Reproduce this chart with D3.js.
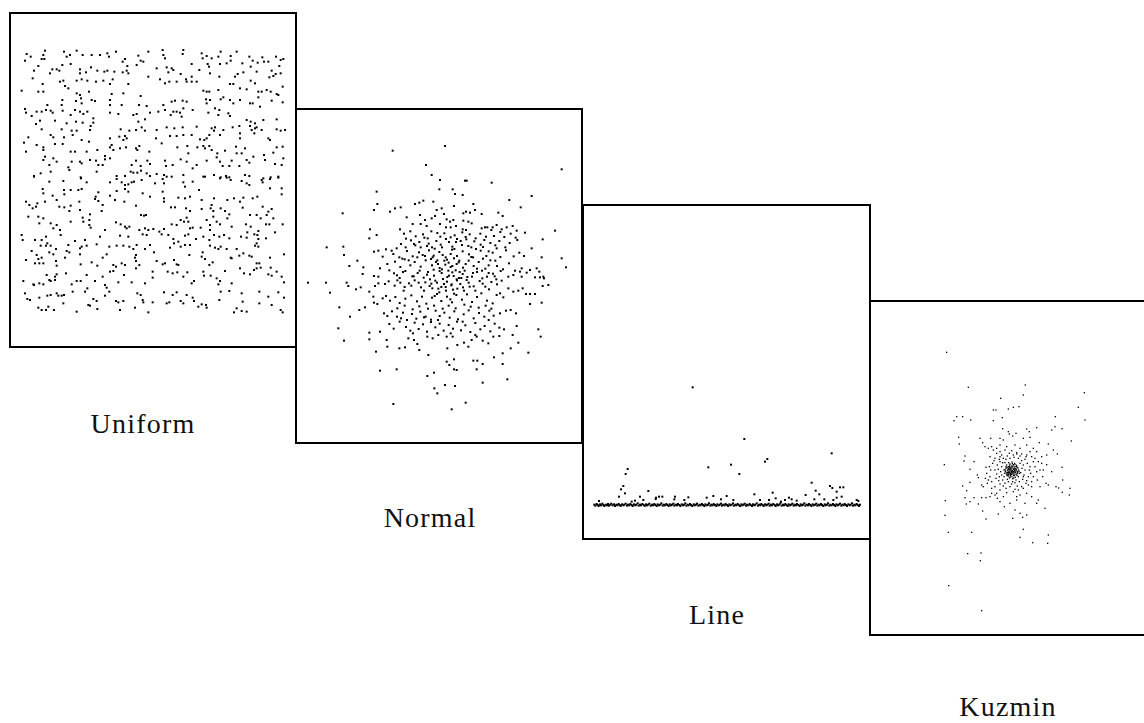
<!DOCTYPE html>
<html lang="en">
<head>
<meta charset="utf-8">
<title>Point distributions</title>
<script src="https://d3js.org/d3.v7.min.js"></script>
<style>
  body { margin: 0; background: white; }
  .box { fill: none; stroke: black; stroke-width: 2; }
  .label {
    font-family: "Liberation Serif", "DejaVu Serif", serif;
    font-size: 28px;
    letter-spacing: 1.2px;
    fill: #111;
  }
</style>
</head>
<body>
<script>
// point positions, in panel units
var uniformPts = [
  [50,42],[45,62],[62,50],[105,32],[100,45],[95,57],[103,57],[162,35],[170,50],[180,45],[200,32],[218,45],[245,45],[270,45],[292,40],[297,50],[318,35],[345,57],[338,65],[385,47],[392,62],[400,65],[415,35],[458,30],[460,45],[465,55],[520,30],[518,42],[575,40],[578,55],[590,48],[605,55],[632,35],[625,50],[662,48],[662,62],[680,35],[718,50],[728,62],[757,52],[762,65],[798,50],[812,60],[820,57],[775,65],
  [72,92],[85,78],[120,100],[127,88],[140,88],[148,92],[157,75],[182,72],[210,88],[210,100],[228,97],[243,82],[262,92],[283,95],[292,92],[313,95],[338,97],[352,78],[350,92],[355,100],[380,75],[440,85],[470,82],[475,97],[485,85],[490,90],[512,102],[545,72],[545,110],[568,90],[593,72],[597,80],[600,100],[630,72],[650,70],[683,102],[697,70],[700,97],[722,80],[740,95],[743,68],[785,92],[797,102],[808,78],[812,100],[790,108],[778,112],
  [68,115],[98,132],[150,125],[160,122],[165,138],[175,145],[200,122],[215,118],[232,122],[258,125],[280,122],[300,132],[308,118],[355,132],[415,110],[450,118],[465,130],[478,125],[500,125],[528,118],[530,125],[545,125],[560,125],[628,110],[625,150],[660,132],[670,132],[675,110],[690,145],[710,148],[722,122],[735,130],[745,155],[755,155],[770,150],[782,155],[800,162],[818,140],[35,152],[85,155],[100,155],[580,152],[590,155],[598,155],
  [200,160],[210,165],[213,175],[237,155],[157,180],[155,195],[198,183],[215,190],[245,180],[255,183],[305,162],[300,180],[340,160],[392,168],[300,195],[335,195],[387,195],[410,198],[485,185],[495,182],[518,182],[530,185],[460,195],[588,178],[600,180],[590,190],[632,178],[640,172],[660,180],[670,190],[690,180],[720,190],[728,190],[745,172],[750,200],[785,182],[818,187],[805,165],[112,195],[108,210],[45,207],[48,218],
  [80,215],[95,215],[122,212],[128,218],[158,212],[182,225],[195,210],[210,215],[220,222],[232,215],[250,235],[250,248],[300,218],[325,222],[370,225],[380,222],[385,245],[405,238],[420,218],[445,215],[465,210],[482,225],[490,215],[500,215],[510,218],[520,205],[515,230],[548,210],[595,218],[615,205],[628,210],[625,225],[655,220],[660,228],[710,240],[722,245],[735,250],[760,240],[800,238],[65,228],[90,242],[135,242],[78,252],[170,250],[198,245],[218,248],[242,258],
  [95,268],[155,268],[185,272],[200,272],[240,270],[332,268],[358,272],[378,270],[395,262],[405,272],[440,270],[470,262],[493,265],[518,262],[560,260],[605,265],[615,262],[640,270],[668,262],[688,258],[720,258],[725,270],[735,265],[740,262],[755,270],[800,268],[825,270],[812,272],[55,292],[42,308],[122,285],[130,292],[162,292],[188,285],[215,300],[237,305],[300,295],[328,290],[345,288],[340,300],[350,295],[438,295],[480,288],[500,288],[520,285],[545,285],[570,298],[583,300],[590,295],[598,285],[612,272],[630,285],[690,280],[690,295],[733,280],[775,295],[780,300],
  [80,315],[100,322],[100,330],[135,312],[158,312],[48,335],[105,350],[182,335],[195,335],[230,335],[262,330],[300,322],[305,315],[310,330],[330,325],[348,322],[378,325],[388,318],[382,330],[418,335],[455,310],[502,322],[532,318],[535,340],[562,322],[580,318],[585,325],[598,318],[605,330],[622,340],[645,332],[678,320],[680,340],[695,340],[705,325],[730,350],[762,345],[800,322],[818,320],[790,338],[100,360],[130,355],[185,365],[210,365],[240,360],[258,362],[265,375],[278,375],[285,358],[300,355],
  [118,375],[140,365],[175,382],[215,370],[285,348],[365,375],[378,362],[392,378],[412,362],[420,372],[465,362],[468,378],[488,375],[512,358],[530,365],[560,375],[548,385],[590,362],[620,352],[630,365],[638,378],[658,378],[665,362],[688,378],[710,360],[718,368],[765,360],[795,372],[820,355],[815,375],[72,408],[92,400],[122,395],[178,390],[212,412],[260,395],[320,408],[345,408],[362,395],[370,398],[382,398],[393,392],[410,400],[420,408],[440,402],[462,405],[470,410],[520,405],[580,410],[612,405],[632,412],[648,408],[658,412],[705,405],[718,408],[760,415],[782,412],[805,410],
  [72,410],[118,425],[160,423],[213,415],[230,427],[300,427],[320,417],[335,427],[345,435],[355,433],[365,427],[372,425],[395,420],[435,430],[458,417],[462,430],[485,410],[520,427],[525,440],[548,425],[585,410],[630,415],[650,413],[662,420],[695,423],[710,430],[718,435],[755,420],[758,427],[780,417],[805,413],[98,447],[100,460],[128,467],[162,450],[163,463],[182,450],[205,450],[215,447],[265,457],[257,470],[300,467],[320,453],[345,447],[355,455],[398,460],[420,470],[458,455],[462,475],[505,473],[525,475],[540,470],[567,450],[575,480],[612,475],[652,480],[672,475],[700,473],[728,475],[742,470],[780,445],[815,445],[815,463],
  [48,485],[58,495],[68,505],[78,500],[82,490],[105,485],[140,480],[148,500],[163,502],[178,513],[182,497],[208,485],[210,510],[240,523],[255,477],[265,483],[275,513],[278,495],[315,480],[343,485],[378,497],[393,525],[402,527],[408,525],[462,485],[483,502],[495,502],[528,505],[540,513],[575,507],[605,495],[602,505],[610,513],[632,505],[645,513],[658,523],[690,485],[698,503],[720,525],[740,525],[758,500],[775,515],[770,525],[785,507],[790,535],[55,530],[85,530],[100,535],[88,550],[122,550],[140,555],[130,565],[150,570],[182,545],[218,533],[220,545],[238,540],[238,555],[242,563],
  [318,547],[332,553],[345,560],[350,565],[358,560],[388,570],[405,565],[415,570],[430,567],[462,567],[485,553],[500,555],[512,540],[522,545],[535,545],[540,565],[548,563],[530,533],[572,563],[590,540],[600,555],[620,545],[610,530],[630,553],[600,570],[652,535],[665,560],[708,553],[712,577],[722,560],[745,573],[752,535],[768,553],[778,553],[795,577],[818,553],[35,585],[38,600],[75,600],[95,600],[108,590],[112,610],[152,585],[195,603],[225,600],[270,590],[285,570],[330,587],[355,590],[398,583],[410,585],[448,575],[455,583],[475,585],[490,597],[525,587],[535,583],[558,597],[580,590],[598,600],[612,585],[628,590],[642,585],[658,595],[693,590],[710,593],[733,583],[742,585],[745,597],[768,595],
  [92,617],[108,617],[122,617],[138,627],[175,615],[210,625],[215,620],[230,617],[260,613],[298,620],[320,617],[340,617],[358,620],[380,615],[370,627],[378,645],[405,627],[420,615],[432,637],[480,623],[492,610],[505,605],[512,620],[525,615],[540,615],[600,617],[615,623],[625,627],[632,620],[650,627],[680,627],[700,640],[735,617],[740,610],[745,620],[65,633],[80,645],[85,657],[95,653],[118,637],[130,643],[170,633],[178,637],[210,643],[48,660],[75,670],[88,670],[100,670],[138,663],[140,677],[165,653],[212,673],[245,667],[262,677],[278,653],[290,643],[310,675],[318,680],[335,670],[345,675],[375,653],[378,663],[388,675],[440,663],[458,673],[465,670],[492,660],[500,673],[505,675],[538,645],[578,637],[575,650],[585,657],[598,675],[608,667],[662,653],[665,655],[688,647],[718,647],[725,650],[740,670],[752,683],[780,653],[822,643],
  [40,723],[70,733],[72,735],[88,730],[100,733],[110,705],[118,720],[122,723],[135,710],[140,703],[135,720],[168,700],[185,733],[200,723],[212,723],[230,705],[255,723],[278,710],[285,735],[290,743],[300,695],[310,693],[325,727],[342,705],[365,727],[378,685],[405,730],[428,695],[428,713],[473,695],[488,700],[502,697],[520,710],[532,697],[545,730],[552,723],[580,695],[582,707],[602,707],[620,715],[625,733],[630,723],[645,693],[665,730],[690,685],[702,700],[720,703],[732,690],[748,670],[775,703],[785,707],[800,695],[815,710],[822,727],[782,683],[740,685],
  [45,760],[52,777],[60,780],[88,773],[112,767],[122,765],[140,760],[145,767],[155,767],[162,765],[188,755],[225,755],[232,745],[250,777],[260,783],[285,767],[298,755],[318,783],[325,787],[340,783],[382,760],[392,765],[398,780],[400,787],[428,787],[462,757],[488,765],[500,757],[512,783],[530,765],[548,773],[552,783],[575,793],[590,803],[628,780],[632,755],[658,753],[695,760],[698,785],[748,755],[748,790],[775,770],[785,795],[805,757],[822,773],[85,803],[95,810],[108,810],[115,800],[132,810],[160,790],[200,815],[235,795],[240,797],[262,807],[330,810],[375,803],[415,817],[470,790],[478,787],[520,790],[565,800],[588,795],[672,817],[680,805],[695,813],[710,815],[812,810],[818,817]
];

var normalPts = [
  [278,32],[435,18],[378,75],[395,105],[420,120],[495,122],[500,122],[575,128],[785,88],[418,148],[458,148],[465,162],[488,165],[230,155],[232,192],[222,210],[128,220],[270,215],[285,205],[302,202],[345,192],[358,188],[370,182],[400,185],[410,210],[425,205],[462,198],[520,192],[525,210],[498,215],[490,220],[510,218],[545,222],[595,218],[608,228],[628,180],[662,202],[695,168],
  [320,232],[360,225],[375,240],[395,235],[405,228],[432,222],[440,238],[450,245],[460,240],[490,242],[505,245],[515,250],[338,252],[362,252],[380,258],[420,252],[438,262],[452,262],[468,258],[488,268],[498,270],[545,265],[555,262],[562,262],[578,262],[590,255],[605,268],[620,262],[638,258],[650,272],[210,268],[208,295],[230,285],
  [300,268],[312,281],[331,274],[347,289],[369,283],[383,295],[394,274],[412,279],[421,290],[433,280],[452,292],[464,286],[471,297],[487,277],[497,291],[509,283],[527,295],[541,281],[558,290],[574,270],[582,288],[601,276],[613,291],[632,281],[647,293],[675,278],[765,272],[728,298],[80,322],[130,320],[132,345],[172,362],[148,378],[190,382],
  [222,335],[235,332],[248,350],[258,328],[275,332],[290,325],[303,312],[317,322],[333,301],[346,316],[358,306],[373,293],[386,311],[396,322],[409,303],[422,314],[438,297],[457,320],[468,306],[486,315],[499,298],[514,322],[523,304],[542,314],[553,300],[571,309],[586,316],[598,303],[616,322],[629,309],[652,300],[695,325],[725,352],
  [280,342],[298,352],[321,333],[338,349],[357,337],[368,345],[387,331],[401,347],[418,336],[437,352],[456,329],[471,348],[488,334],[507,343],[519,352],[542,332],[559,348],[578,338],[601,351],[618,331],[641,349],[658,338],[672,348],
  [240,385],[262,372],[285,365],[301,381],[314,358],[331,376],[344,366],[362,380],[377,361],[396,376],[408,366],[426,388],[441,359],[457,378],[476,367],[489,383],[506,362],[521,378],[536,366],[556,386],[571,361],[591,378],[609,388],[627,370],[645,392],[665,385],[690,390],[710,385],[785,355],[798,382],
  [222,408],[235,410],[282,400],[299,414],[316,393],[337,409],[353,399],[371,413],[384,396],[402,407],[419,393],[442,411],[457,397],[477,414],[494,392],[516,410],[531,396],[547,415],[566,399],[584,409],[625,410],[665,410],[705,412],[730,410],
  [188,402],[268,391],[291,406],[309,396],[341,409],[359,392],[381,404],[401,389],[461,408],[479,396],[502,411],[519,399],[546,392],[561,410],[579,401],[602,393],[640,405],[660,395],[680,398],[718,395],[720,412],[732,415],
  [24,428],[78,428],[140,428],[145,438],[90,458],[168,448],[182,442],[208,455],[225,438],[235,430],[255,432],[266,424],[284,437],[301,428],[314,441],[327,430],[344,421],[363,442],[376,427],[389,438],[406,422],[424,441],[441,425],[454,436],[471,421],[489,442],[506,428],[521,439],[539,423],[556,440],[574,426],[591,433],[605,422],[625,445],[640,455],[655,452],[668,445],[678,462],[690,462],[705,462],[728,438],[745,435],
  [220,470],[222,488],[232,492],[248,475],[258,468],[270,482],[286,471],[299,489],[316,476],[334,466],[351,484],[366,470],[379,491],[396,473],[411,462],[424,483],[441,470],[456,487],[469,465],[486,479],[501,463],[516,486],[531,471],[544,460],[561,482],[578,490],[590,465],[600,460],[610,472],[690,492],[725,488],
  [118,502],[178,510],[195,502],[252,520],[262,528],[276,514],[291,530],[309,518],[321,540],[336,522],[349,536],[361,515],[377,530],[393,539],[407,512],[419,528],[433,518],[449,533],[463,514],[474,538],[491,523],[506,511],[521,535],[537,519],[553,530],[568,512],[581,527],[600,520],[618,512],[632,510],[648,520],
  [150,530],[115,565],[132,602],[208,578],[208,598],[240,575],[260,600],[268,552],[281,566],[299,545],[318,561],[331,572],[344,548],[356,567],[369,553],[381,575],[393,546],[406,562],[419,551],[431,572],[446,555],[459,566],[471,545],[483,571],[496,556],[511,576],[526,549],[541,568],[554,558],[571,574],[584,551],[598,563],[612,568],[638,585],[650,558],[655,608],[685,638],[715,568],[722,590],
  [398,352],[412,361],[428,345],[446,368],[462,355],[478,362],[452,342],[436,374],[419,384],[467,391],[488,402],[447,407],[429,417],[411,428],[455,433],[472,446],[438,452],[418,457],[462,461],[481,432],[397,445],[404,468],[451,478],[492,452],[445,392],[425,399],[470,418],[390,418],[500,420],[432,432],
  [318,296],[342,312],[362,322],[381,318],[404,326],[426,322],[447,306],[463,327],[482,303],[505,318],[528,327],[549,321],[566,334],[590,325],
  [307,356],[326,361],[352,352],[375,348],[393,357],[414,372],[433,362],[452,381],[470,372],[497,372],[514,351],[531,386],[549,356],[566,376],[586,362],
  [292,421],[311,452],[334,437],[356,428],[372,452],[394,431],[415,446],[437,441],[459,449],[484,414],[509,440],[526,452],[548,431],[567,448],[589,418],
  [292,505],[314,497],[338,508],[358,499],[384,506],[402,497],[428,506],[446,497],[467,505],[493,494],[512,500],[536,503],[557,497],[574,506],
  [303,535],[339,580],[372,532],[414,540],[452,580],[488,545],[526,585],[566,540],
  [262,620],[298,625],[315,622],[325,595],[342,600],[352,612],[358,630],[382,590],[398,595],[415,585],[440,590],[442,625],[458,590],[472,615],[492,608],[505,620],[515,600],[530,590],[548,602],[565,610],[580,590],[598,588],[608,640],[632,625],[228,635],[385,645],[440,665],[448,675],[462,658],[470,690],[462,688],[520,662],[532,662],[548,672],[530,688],[582,652],[608,672],[622,718],[548,728],[240,692],[290,688],[382,708],[402,698],[435,735],[465,738],[403,745],[412,760],[280,792],[455,808],[497,788]
];

var linePts = [
  [323,52],[478,207],[740,250],[370,292],[438,284],[463,312],[540,275],[547,267],[128,297],[122,312],[115,348],[108,358],[120,370],[102,380],[190,363],[680,338],[692,362],[703,373],[735,348],[742,354],[765,352],[775,352],[755,365],[770,380],[755,383],[563,368],[508,373],[662,375],[572,385],[612,383],[620,388],[600,390],[635,392],[588,395],[525,390],[552,390],[408,388],[385,378],[365,383],[425,378],[445,390],[270,380],[268,388],[232,380],[222,380],[213,383],[212,387],[165,380],[175,390],[150,392],[140,395],[42,393],[298,390],[310,382],[688,388],[718,388],[745,390],[815,390],[820,393],
  [28,404],[31,407],[35,402],[38,405],[41,408],[45,403],[48,406],[52,401],[55,405],[58,408],[62,404],[66,406],[69,402],[72,407],[76,404],[79,401],[83,406],[87,403],[90,408],[94,404],[97,406],[101,402],[104,405],[107,408],[111,403],[115,406],[118,404],[122,401],[126,407],[129,404],[133,406],[136,402],[140,405],[143,408],[147,403],[151,406],[154,404],[158,400],[161,407],[165,404],[168,406],[172,402],[176,405],[179,408],[183,403],[186,406],[190,404],[193,401],[197,407],[201,404],[204,406],[208,402],[211,405],[215,408],[218,403],[222,406],[226,404],[229,400],[233,407],[236,404],[240,406],[244,402],[247,405],[251,408],[254,403],[258,406],[261,404],[265,401],[268,407],[272,404],[276,406],[279,402],[283,405],[286,408],[290,403],[294,406],[297,404],[301,400],[304,407],[308,404],[311,406],[315,402],[318,405],[322,408],[326,403],[329,406],[333,404],[336,401],[340,407],[344,404],[347,406],[351,402],[354,405],[358,408],[361,403],[365,406],[369,404],[372,400],[376,407],[379,404],[383,406],[386,402],[390,405],[394,408],[397,403],[401,406],[404,404],[408,401],[411,407],[415,404],[419,406],[422,402],[426,405],[429,408],[433,403],[436,406],[440,404],[444,400],[447,407],[451,404],[454,406],[458,402],[461,405],[465,408],[469,403],[472,406],[476,404],[479,401],[483,407],[486,404],[490,406],[494,402],[497,405],[501,408],[504,403],[508,406],[511,404],[515,400],[519,407],[522,404],[526,406],[529,402],[533,405],[536,408],[540,403],[544,406],[547,404],[551,401],[554,407],[558,404],[561,406],[565,402],[569,405],[572,408],[576,403],[579,406],[583,404],[586,400],[590,407],[594,404],[597,406],[601,402],[604,405],[608,408],[611,403],[615,406],[619,404],[622,401],[626,407],[629,404],[633,406],[636,402],[640,405],[644,408],[647,403],[651,406],[654,404],[658,400],[661,407],[665,404],[669,406],[672,402],[676,405],[679,408],[683,403],[686,406],[690,404],[694,401],[697,407],[701,404],[704,406],[708,402],[711,405],[715,408],[719,403],[722,406],[726,404],[729,400],[733,407],[736,404],[740,406],[744,402],[747,405],[751,408],[754,403],[758,406],[761,404],[765,401],[769,407],[772,404],[776,406],[779,402],[783,405],[786,408],[790,403],[794,406],[797,404],[801,400],[804,407],[808,404],[811,406],[815,402],[818,405],[822,408],[825,404]
];

var kuzminPts = [
  [140,67],[205,172],[376,165],[370,195],[553,188],[302,205],[280,240],[288,240],[325,237],[340,232],[357,230],[535,232],[555,270],[466,260],[170,260],[188,260],[162,272],[212,270],[280,272],[307,263],[308,296],[465,290],[455,300],[486,296],[380,297],[388,305],[410,293],[325,305],[348,310],[328,312],[176,322],[178,342],[240,325],[248,338],[272,325],[275,350],[300,325],[310,330],[338,318],[370,325],[390,322],[514,333],[418,338],[445,342],[380,345],[300,345],[255,350],[265,355],[290,355],[320,350],[345,345],[360,355],[400,355],[410,365],[425,380],[440,375],[460,360],[472,372],[195,378],[192,393],[133,404],[210,418],[222,395],[232,435],[235,443],[245,465],[250,470],[268,410],[258,412],[440,404],[486,412],[455,425],[438,460],[428,440],[445,465],[468,470],[476,474],[488,450],[510,475],[508,495],[487,487],[188,468],[200,482],[210,457],[195,503],[222,503],[210,515],[199,522],[235,522],[245,503],[258,503],[270,500],[285,495],[275,490],[300,515],[330,520],[350,510],[375,520],[395,500],[410,520],[415,510],[435,535],[136,512],[135,556],[248,543],[295,552],[313,530],[345,540],[360,550],[380,555],[368,562],[258,567],[338,565],[370,598],[360,622],[398,638],[445,615],[443,640],[145,607],[215,607],[203,671],[243,669],[241,692],[146,767],[245,842],
  [280,360],[290,370],[300,365],[315,360],[335,362],[350,368],[365,372],[380,375],[395,380],[400,395],[405,410],[410,425],[400,440],[395,455],[385,465],[370,475],[355,480],[340,485],[320,488],[300,480],[285,470],[275,455],[270,440],[272,420],[278,400],[285,385],[300,380],[260,430],[265,450],[290,490],[310,500],[360,495],[380,490],[395,470],[412,450],[420,420],[415,395],[405,385],[390,365],[270,380],[282,392],[256,445],[292,505],[350,500],[420,470],[425,400],[430,420],[262,460],[275,475],
  [300,395],[305,410],[302,425],[298,440],[308,450],[315,460],[325,455],[335,462],[345,458],[358,455],[368,448],[372,435],[375,420],[370,405],[365,392],[355,385],[342,382],[330,385],[318,388],[308,398],[295,418],[290,432],[296,452],[310,468],[330,470],[352,468],[378,460],[385,440],[388,420],[382,400],[375,388],[360,378],[340,375],[322,378],[310,385],[292,405],[288,445],[300,462],[318,475],[345,478],[365,470],[380,452],[392,430],[390,410],[378,380],[350,372],[328,370],[305,375],[298,388],[285,420],[312,440],[322,448],[362,428],[366,415],[360,400],[315,398],[348,450],[338,455],[305,435],[370,440],
  [320,405],[325,410],[330,402],[335,408],[340,404],[345,410],[350,406],[318,415],[324,418],[329,414],[334,420],[339,416],[344,422],[349,418],[354,414],[316,425],[322,428],[327,424],[332,430],[337,426],[342,432],[347,428],[352,424],[320,435],[326,438],[331,434],[336,440],[341,436],[346,442],[351,436],[328,444],[338,446],[344,400],[336,396],[326,398],[356,420],[358,430],[312,420],[314,430],[330,420],[340,425],[333,412],[343,414],[323,422],[348,434],[335,433],[327,430],[318,410],[352,412],[355,440],
  [331,417],[337,422],[329,427],[341,419],[334,426],[325,415],[345,425],[338,411],[332,436],[322,432],[348,422],[336,429],[328,409],[342,428],[333,423],
  [321,412],[327,419],[339,408],[347,416],[353,428],[343,437],[331,441],[319,429],[315,419],[337,401],[329,405],[351,431],[345,404],[325,427],[339,432],[357,424],[333,415],[341,444],[323,437],[349,410],[317,423],[335,425],[330,412],[344,418],[326,433]
];

var labels = ["Uniform", "Normal", "Line", "Kuzmin"];

var w = 1144, h = 723;

var panels = [
  { name: labels[0], data: uniformPts, x: [10, 296], y: [13, 347], xd: [0, 858], yd: [-81, 921], dot: 2, lx: 143, ly: 433 },
  { name: labels[1], data: normalPts, x: [296, 582], y: [109, 443], xd: [-12, 846], yd: [-93, 909], dot: 2, lx: 430, ly: 527 },
  { name: labels[2], data: linePts, x: [583, 870], y: [205, 539], xd: [-6, 855], yd: [-495, 507], dot: 2, lx: 717, ly: 624 },
  { name: labels[3], data: kuzminPts, x: [870, 1157], y: [301, 635], xd: [-90, 771], yd: [-87, 915], dot: 1.3, lx: 1008, ly: 716 }
];

var svg = d3.select("body").append("svg")
  .attr("width", w)
  .attr("height", h);

panels.forEach(function (p) {
  var xs = d3.scaleLinear().domain(p.xd).range(p.x);
  var ys = d3.scaleLinear().domain(p.yd).range(p.y);

  var g = svg.append("g").attr("class", "panel");

  g.append("rect")
    .attr("x", p.x[0])
    .attr("y", p.y[0])
    .attr("width", p.x[1] - p.x[0])
    .attr("height", p.y[1] - p.y[0])
    .attr("fill", "white");

  g.append("g")
    .selectAll("rect")
    .data(p.data)
    .enter()
    .append("rect")
    .attr("x", d => xs(d[0]) - p.dot / 2)
    .attr("y", d => ys(d[1]) - p.dot / 2)
    .attr("width", p.dot)
    .attr("height", p.dot)
    .attr("fill", "black");

  g.append("rect")
    .attr("class", "box")
    .attr("x", p.x[0])
    .attr("y", p.y[0])
    .attr("width", p.x[1] - p.x[0])
    .attr("height", p.y[1] - p.y[0]);

  svg.append("text")
    .attr("class", "label")
    .attr("x", p.lx)
    .attr("y", p.ly)
    .attr("text-anchor", "middle")
    .text(p.name);
});
</script>
</body>
</html>
